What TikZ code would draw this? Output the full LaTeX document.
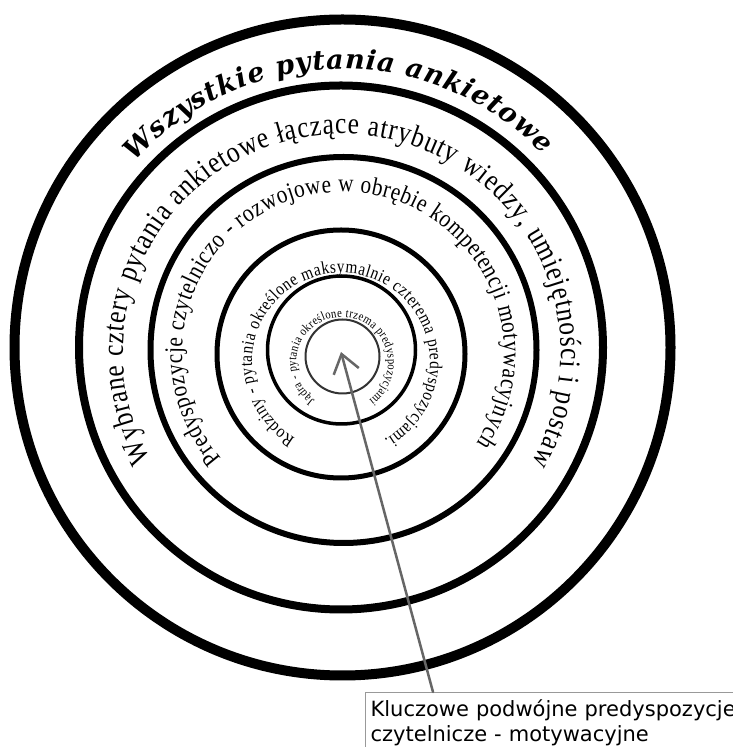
\documentclass[tikz,border=0pt]{standalone}
\usepackage{fontspec}
\setmainfont{Liberation Serif}
\newfontfamily\ringfont[FakeStretch=0.85]{Liberation Serif}
\newfontfamily\scriptfnt{DejaVu Serif}
\newfontfamily\labelfont{DejaVu Sans}
\usetikzlibrary{decorations.text,arrows.meta,calc}
\newcommand\myfA{\scriptfnt\bfseries\itshape\fontsize{27}{30}\selectfont}
\newcommand\myfB{\ringfont\fontsize{30}{34}\selectfont}
\newcommand\myfC{\ringfont\fontsize{25}{28}\selectfont}
\newcommand\myfD{\ringfont\fontsize{18}{20}\selectfont}
\newcommand\myfE{\ringfont\fontsize{12.5}{14}\selectfont}
\tikzset{
  ringline/.style={draw=black},
  arctext/.style={decorate, decoration={text along path, text={#1}, text align={fit to path}}},
  labelbox/.style={draw=black!40, line width=1.2pt, fill=white, inner xsep=5pt, inner ysep=7pt,
    align=left, text width=380pt, font=\labelfont\fontsize{21}{25}\selectfont},
  pointer/.style={draw=black!60, line width=2.5pt, line cap=round,
    -{Straight Barb[length=18pt,width=26pt,line width=2.5pt]}}
}
\begin{document}
\begin{tikzpicture}[x=1pt,y=1pt]
\useasboundingbox (0,0) rectangle (733,747);
\fill[white] (0,0) rectangle (733,747);
% circle centres
\coordinate (c1) at (342.5,399.5);
\coordinate (c2) at (341,399.5);
\coordinate (c3) at (343.5,397);
\coordinate (c4) at (341,393);
\coordinate (c5) at (341.5,397);
\coordinate (c6) at (342.5,390.5);
% text centres
\coordinate (t1) at (342,399);
\coordinate (t2) at (342,394);
\coordinate (t3) at (343,394);
\coordinate (t4) at (341,385);
\coordinate (t5) at (342,384);
% circles
\draw[ringline, line width=10pt] (c1) circle[radius=328];
\draw[ringline, line width=8pt] (c2) circle[radius=262];
\draw[ringline, line width=6pt] (c3) circle[radius=193];
\draw[ringline, line width=5pt] (c4) circle[radius=124];
\draw[ringline, line width=3.5pt] (c5) circle[radius=74];
\draw[draw=black!80, line width=2pt] (c6) circle[radius=37];
% texts
\path[arctext={|\myfA|Wszystkie pytania ankietowe}]
  ([shift={(138:279)}]t1) arc[start angle=138, end angle=44, radius=279];
\path[arctext={|\myfB|Wybrane cztery pytania ankietowe łączące atrybuty wiedzy, umiejętności i postaw}]
  ([shift={(209:219)}]t2) arc[start angle=209, end angle=-30, radius=219];
\path[arctext={|\myfC|Predyspozycje czytelniczo - rozwojowe w obrębie kompetencji motywacyjnych}]
  ([shift={(221:161)}]t3) arc[start angle=221, end angle=-34, radius=161];
\path[arctext={|\myfD|Rodziny - pytania określone maksymalnie czterema predyspozycjami.}]
  ([shift={(239:89)}]t4) arc[start angle=239, end angle=-61, radius=89];
\path[arctext={|\myfE|Jądra - pytania określone trzema predyspozycjami}]
  ([shift={(234:46)}]t5) arc[start angle=234, end angle=-54, radius=46];
% label and pointer
\node[labelbox, anchor=north west] (box) at (365,55) {Kluczowe podwójne predyspozycje\\czytelnicze - motywacyjne};
\coordinate (boxtop) at ($(box.north west)+(68,0)$);
\coordinate (tip) at (341,395);
\draw[pointer] (boxtop) -- (tip);
\end{tikzpicture}
\end{document}
